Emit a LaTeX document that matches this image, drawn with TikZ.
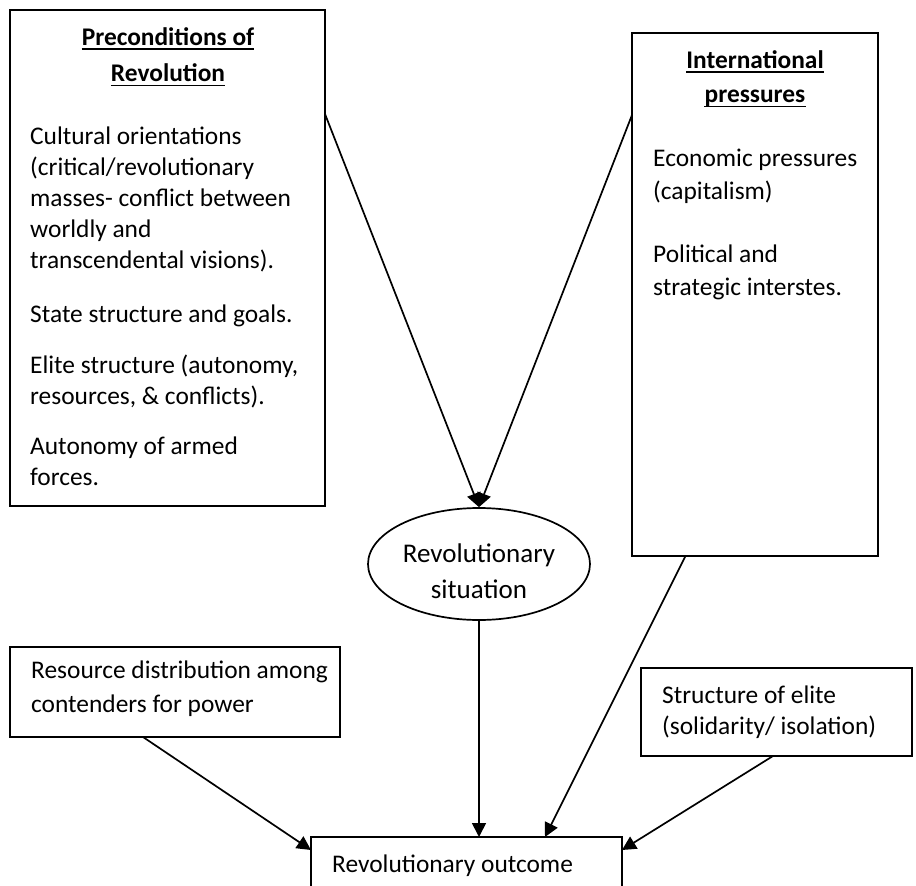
\documentclass[tikz,border=0pt]{standalone}
\usepackage{fontspec}
\setmainfont{Carlito}
\usetikzlibrary{arrows.meta,shapes.geometric,calc}
\begin{document}
\begin{tikzpicture}[x=1pt,y=-1pt,
  boxnode/.style={draw, line width=1.7pt, inner sep=0pt, outer sep=0pt, anchor=north west},
  txt/.style={anchor=base west, inner sep=0pt, font=\fontsize{25.4}{30}\selectfont},
  hd/.style={anchor=base, inner sep=0pt, font=\fontsize{25.4}{30}\selectfont\bfseries},
  ctr/.style={anchor=base, inner sep=0pt, font=\fontsize{27}{32}\selectfont},
  ul/.style={line width=1.7pt},
  arr/.style={line width=1.7pt, -{Triangle[length=14pt,width=14pt]}}]
\clip (0,0) rectangle (916,886);
\fill[white] (0,0) rectangle (916,886);

% boxes
\node[boxnode, minimum width=315pt, minimum height=496pt] (pre) at (10,10) {};
\node[boxnode, minimum width=246pt, minimum height=523pt] (intl) at (632,33) {};
\node[ellipse, draw, line width=1.7pt, minimum width=222pt, minimum height=112pt, inner sep=0pt] (ell) at (479,564) {};
\node[boxnode, minimum width=330pt, minimum height=90pt] (res) at (10,647) {};
\node[boxnode, minimum width=271pt, minimum height=88pt] (str) at (641,668) {};
\node[boxnode, minimum width=311pt, minimum height=80pt] (out) at (311,837) {};

% box 1 text
\node[hd] (h1) at (168,45) {Preconditions of};
\node[hd] (h2) at (168,81) {Revolution};
\draw[ul] ([yshift=-4pt]h1.base west) -- ([yshift=-4pt]h1.base east);
\draw[ul] ([yshift=-4.5pt]h2.base west) -- ([yshift=-4.5pt]h2.base east);
\node[txt] (a1) at (30,144) {Cultural orientations};
\node[txt] (a2) at (30,175) {(critical/revolutionary};
\node[txt] (a3) at (30,206) {masses- conflict between};
\node[txt] (a4) at (30,237) {worldly and};
\node[txt] (a5) at (30,268) {transcendental visions).};
\node[txt] (a6) at (30,322) {State structure and goals.};
\node[txt] (a7) at (30,373) {Elite structure (autonomy,};
\node[txt] (a8) at (30,404) {resources, \& conflicts).};
\node[txt] (a9) at (30,454) {Autonomy of armed};
\node[txt] (a10) at (30,485) {forces.};

% box 2 text
\node[hd] (h3) at (755,68) {International};
\node[hd] (h4) at (755,102) {pressures};
\draw[ul] ([yshift=-4pt]h3.base west) -- ([yshift=-4pt]h3.base east);
\draw[ul] ([yshift=-4.5pt]h4.base west) -- ([yshift=-4.5pt]h4.base east);
\node[txt] (b1) at (653,166) {Economic pressures};
\node[txt] (b2) at (653,199) {(capitalism)};
\node[txt] (b3) at (653,262) {Political and};
\node[txt] (b4) at (653,295) {strategic interstes.};

% ellipse text
\node[ctr] (e1) at (479,562) {Revolutionary};
\node[ctr] (e2) at (479,598) {situation};

% lower boxes text
\node[txt] (r1) at (31,678) {Resource distribution among};
\node[txt] (r2) at (31,712) {contenders for power};
\node[txt] (s1) at (662,703) {Structure of elite};
\node[txt] (s2) at (662,734) {(solidarity/ isolation)};
\node[txt] (o1) at (332,872) {Revolutionary outcome};

% connectors
\coordinate (c1) at ($(pre.north east)+(0,104)$);
\coordinate (c2) at ($(intl.north west)+(0,82)$);
\coordinate (c3) at ($(intl.south west)+(53.5,0)$);
\coordinate (c4) at ($(out.north west)+(234,0)$);
\coordinate (c5) at ($(res.south west)+(133,0)$);
\coordinate (c6) at ($(out.north west)+(0,13)$);
\coordinate (c7) at ($(str.south west)+(132,0)$);
\coordinate (c8) at ($(out.north east)+(0,13)$);
\draw[arr] (c1) -- (ell.north);
\draw[arr] (c2) -- (ell.north);
\draw[arr] (ell.south) -- (ell.south |- out.north);
\draw[arr] (c3) -- (c4);
\draw[arr] (c5) -- (c6);
\draw[arr] (c7) -- (c8);
\end{tikzpicture}
\end{document}
